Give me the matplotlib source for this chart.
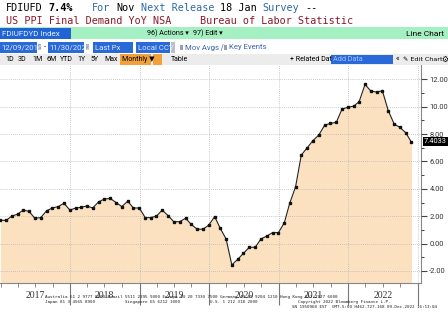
import matplotlib
matplotlib.use('Agg')
import numpy as np
import pandas as pd
import matplotlib.pyplot as plt
import matplotlib.transforms as mtransforms
from matplotlib.patches import Rectangle

W, H = 448, 322

# monthly US PPI final demand, YoY %, Dec 2016 .. Nov 2022 (month ends)
dates = pd.date_range('2016-12-31', periods=72, freq='ME')
ppi_yoy = [1.7,
           1.7, 2.0, 2.15, 2.45, 2.35, 1.85, 1.9, 2.4, 2.6, 2.7, 2.95, 2.45,
           2.6, 2.65, 2.75, 2.6, 3.05, 3.25, 3.3, 3.0, 2.7, 3.1, 2.6, 2.6,
           1.9, 1.9, 2.0, 2.45, 2.05, 1.6, 1.6, 1.85, 1.4, 1.05, 1.05, 1.35,
           1.97, 1.12, 0.34, -1.56, -1.15, -0.71, -0.27, -0.27, 0.34, 0.55, 0.8, 0.8,
           1.53, 2.94, 4.15, 6.47, 7.0, 7.52, 7.93, 8.66, 8.78, 8.86, 9.83, 9.96,
           10.05, 10.37, 11.63, 11.15, 11.07, 11.17, 9.71, 8.74, 8.49, 8.1, 7.4033]
year_labels = ['2017', '2018', '2019', '2020', '2021', '2022']
y_ticks = [-2, 0, 2, 4, 6, 8, 10, 12]
last_value = 7.4033

fig = plt.figure(figsize=(W / 100, H / 100), dpi=100)
fig.patch.set_facecolor('white')


def box(x, y, w, h, color):
    fig.add_artist(Rectangle((x / W, 1 - (y + h) / H), w / W, h / H,
                             transform=fig.transFigure, facecolor=color,
                             edgecolor='none', zorder=1))


def txt(x, y, s, **kw):
    kw.setdefault('va', 'center')
    fig.text(x / W, 1 - y / H, s, zorder=3, **kw)


# header lines (monospace, word colours)
mono = 'DejaVu Sans Mono'
cw = 6.1
line1 = [('FDIUFD', 6, 'black', 'normal'), ('7.4%', 6 + 7 * cw, 'black', 'bold')]
for s, x, c, w in line1:
    txt(x, 8, s, family=mono, fontsize=7.3, color=c, weight=w)
words = [('For', 0, '#2f6aa8'), ('Nov', 4, 'black'), ('Next Release', 8, '#2f6aa8'),
         ('18 Jan', 21, 'black'), ('Survey', 28, '#2f6aa8'), ('--', 35, 'black')]
for s, k, c in words:
    txt(92 + k * cw, 8, s, family=mono, fontsize=7.3, color=c)
txt(6, 21, 'US PPI Final Demand YoY NSA', family=mono, fontsize=7.3, color='#8a1a28')
txt(200, 21, 'Bureau of Labor Statistic', family=mono, fontsize=7.3, color='#8a1a28')

# green command bar
ui = ['Roboto', 'DejaVu Sans']
box(0, 27, W, 12, '#a4f0c2')
box(0, 28, 71, 11, '#1f63d4')
txt(2, 33.5, 'FDIUFDYD Index', family=ui, fontsize=5.8, color='#e8f0ff')
txt(147, 33.5, '96) Actions \u25be', family=ui, fontsize=5.1, color='black')
txt(193, 33.5, '97) Edit \u25be', family=ui, fontsize=5.1, color='black')
txt(444, 33.5, 'Line Chart', family=ui, fontsize=6, color='black', ha='right')

# date / field row
for x0, w0, s in [(0, 37, '12/09/2016'), (48, 36, '11/30/2022'),
                  (93, 40, 'Last Px'), (136, 34, 'Local CCY')]:
    box(x0, 42, w0, 11, '#2a6ad8')
    txt(x0 + 1.5, 47.5, s, family=ui, fontsize=5.6, color='#dfe9ff')
box(38, 44, 3, 6, '#9aa6b8')
box(86, 44, 3, 6, '#9aa6b8')
txt(44, 47.5, '-', family=ui, fontsize=5.6, color='black')
box(171, 42, 4, 11, '#b8c0cc')
box(180, 45, 2.5, 5, '#9aa0aa')
txt(185, 47.5, 'Mov Avgs \u2215', family=ui, fontsize=5.6, color='#3a62b8')
box(224, 45, 2.5, 5, '#9aa0aa')
txt(229, 47.5, 'Key Events', family=ui, fontsize=5.6, color='#3a62b8')

# period row
box(0, 54, W, 11, '#ececec')
for x0, s in [(5, '1D'), (18, '3D'), (32, '1M'), (46, '6M'), (60, 'YTD'),
              (77, '1Y'), (90, '5Y'), (104, 'Max')]:
    txt(x0, 59.5, s, family=ui, fontsize=5, color='black')
box(120, 54, 31, 11, '#f2a03a')
txt(122, 59.5, 'Monthly \u25bc', family=ui, fontsize=5, color='black')
box(153, 54, 9, 11, '#f2a03a')
txt(171, 59.5, 'Table', family=ui, fontsize=5, color='black')
txt(290, 59.5, '+ Related Dat', family=ui, fontsize=5, color='black')
box(331, 55, 62, 9, '#2a6ad8')
txt(333, 59.5, 'Add Data', family=ui, fontsize=5.2, color='#9fc0ff')
txt(396, 59.5, '\u00ab', family=ui, fontsize=5.5, color='black')
txt(403, 59.5, '\u270e Edit Chart', family=['DejaVu Sans'], fontsize=4.6, color='black')
txt(441, 59.5, '\u2699', family=['DejaVu Sans'], fontsize=5.5, color='black')

# main chart
ax = fig.add_axes([0, 1 - 283 / H, 421 / W, (283 - 65) / H])
ax.set_facecolor('white')
ax.fill_between(dates, ppi_yoy, -3, color='#fbe1c0', lw=0, zorder=1)
ax.plot(dates, ppi_yoy, color='#222222', lw=0.8, marker='s', ms=1.8,
        mfc='#111111', mec='#111111', zorder=3)
ax.set_xlim(pd.Timestamp('2016-12-29'), pd.Timestamp('2023-01-19'))
ax.set_ylim(-2.88, 13.05)

ax.yaxis.tick_right()
ax.set_yticks(y_ticks)
ax.set_yticklabels([f'{v:.2f}' for v in y_ticks], family='Roboto')
ax.set_yticks([v + 1 for v in y_ticks[:-1]], minor=True)
ax.tick_params(axis='y', which='major', length=4, width=0.8, labelsize=5.4,
               pad=2, colors='#444444', labelcolor='#333333')
ax.tick_params(axis='y', which='minor', length=2, width=0.7, colors='#444444')

years = pd.date_range('2018-01-01', '2023-01-01', freq='YS')
quarters = pd.date_range('2017-01-01', '2022-12-31', freq='QS')
ax.set_xticks(years)
ax.set_xticklabels([])
ax.set_xticks(quarters, minor=True)
ax.tick_params(axis='x', which='major', length=16, width=0.8, colors='#777777')
ax.tick_params(axis='x', which='minor', length=3, width=0.6, colors='#777777')

ax.grid(True, which='major', ls=(0, (1, 1.5)), color='#b8b8b8', lw=0.6, zorder=2)
ax.set_axisbelow(False)
for side in ['left', 'top']:
    ax.spines[side].set_visible(False)
for side in ['bottom', 'right']:
    ax.spines[side].set_color('#888888')
    ax.spines[side].set_linewidth(0.8)

blend = mtransforms.blended_transform_factory(ax.transData, ax.transAxes)
for i, lab in enumerate(year_labels):
    ax.text(pd.Timestamp(f'{2017 + i}-07-02'), -12 / 218, lab, transform=blend,
            ha='center', va='center', fontsize=7, family='Liberation Serif',
            color='#333333', zorder=1)

# last value tag
box(423, 137, 25, 9, 'black')
txt(435.5, 141.5, f'{last_value:.4f}', family=ui, fontsize=5.4, color='white', ha='center')

# footer
fmono = dict(family=mono, fontsize=3.1, color='#222222')
txt(45, 297, 'Australia 61 2 9777 8600 Brazil 5511 2395 9000 Europe 44 20 7330 7500 '
             'Germany 49 69 9204 1210 Hong Kong 852 2977 6000', **fmono)
txt(45, 302, 'Japan 81 3 4565 8900', **fmono)
txt(125, 302, 'Singapore 65 6212 1000', **fmono)
txt(210, 302, 'U.S. 1 212 318 2000', **fmono)
txt(298, 302, 'Copyright 2022 Bloomberg Finance L.P.', **fmono)
txt(437, 307, 'SN 1950960 EST  GMT-5:00 H462-727-168 09-Dec-2022 16:13:04',
    ha='right', **fmono)

fig.savefig('out.png', dpi=100)
